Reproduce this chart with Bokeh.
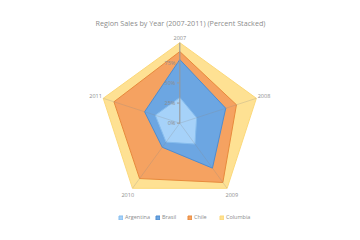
import numpy as np
from bokeh.plotting import figure
from bokeh.models import Legend, LegendItem
from bokeh.core.properties import value
from bokeh.embed import file_html
from bokeh.resources import INLINE

years = ["2007", "2008", "2009", "2010", "2011"]
series = ["Argentina", "Brasil", "Chile", "Columbia"]
argentina = [32, 22, 32, 29, 32]
brasil = [47, 38, 37, 8, 14]
chile = [10, 14, 22, 48, 40]
columbia = [11, 26, 9, 15, 14]
tick_vals = [0, 25, 50, 75]
tick_labels = ["0%", "25%", "50%", "75%"]

fills = ["#a6d2f9", "#6ca6e2", "#f5a261", "#fee193"]
lines = ["#86bdee", "#4f8ccf", "#e88a3c", "#fcd97a"]

FONT = "Open Sans"
GRAY = "#8c8c8c"

# polar geometry
n = len(years)
ang = np.pi / 2 - np.arange(n) * 2 * np.pi / n
data = np.array([argentina, brasil, chile, columbia], dtype=float)
pct = data / data.sum(axis=0) * 100.0
cum = np.cumsum(pct, axis=0) / 100.0

cx, cy, R = 179.3, 122.7, 80.5
W, H = 360, 240
p = figure(width=W, height=H, output_backend="svg", toolbar_location=None,
           x_range=(-cx / R, (W - cx) / R), y_range=(-(H - cy) / R, cy / R),
           min_border=0, outline_line_color=None)
p.axis.visible = False
p.grid.visible = False
p.background_fill_color = "white"
p.border_fill_color = "white"

renderers = []
for i in range(len(series) - 1, -1, -1):
    r = cum[i]
    xs = list(r * np.cos(ang))
    ys = list(r * np.sin(ang))
    rr = p.patch(xs, ys, fill_color=fills[i], line_color=lines[i], line_width=1)
    renderers.append((series[i], rr))

# spokes
sx = [[0, np.cos(a)] for a in ang]
sy = [[0, np.sin(a)] for a in ang]
p.multi_line(sx, sy, line_color="#888888", line_alpha=0.25, line_width=1)

# value axis on the first spoke
p.line([0, 0], [0, 1.0], line_color="#9a9a9a", line_width=1)
tv = np.array(tick_vals) / 100.0
p.segment(x0=[-0.035] * len(tv), y0=list(tv), x1=[0] * len(tv), y1=list(tv),
          line_color="#9a9a9a", line_width=1)
p.text(x=[-0.055] * len(tv), y=list(tv), text=tick_labels, text_align="right",
       text_baseline="middle", text_font=value(FONT), text_font_size="5.5px",
       text_color=GRAY)

# category labels
lab_r = np.array([1.06, 1.1, 1.1, 1.1, 1.1])
p.text(x=list(lab_r * np.cos(ang)), y=list(lab_r * np.sin(ang)), text=years,
       text_align="center", text_baseline="middle", text_font=value(FONT),
       text_font_size="5.5px", text_color=GRAY)

# title
p.text(x=[(W / 2 - cx) / R], y=[(cy - 22) / R],
       text=["Region Sales by Year (2007-2011) (Percent Stacked)"],
       text_align="center", text_baseline="middle", text_font=value(FONT),
       text_font_size="7.2px", text_color=GRAY)

items = [LegendItem(label=name, renderers=[rr]) for name, rr in reversed(renderers)]
legend = Legend(items=items, orientation="horizontal", location=(116, 17),
                border_line_alpha=0, background_fill_alpha=0,
                glyph_width=5, glyph_height=5, label_text_font=FONT,
                label_text_font_size="5.5px", label_text_color=GRAY,
                spacing=5, padding=2, margin=0, label_standoff=2,
                label_height=6)
p.add_layout(legend, "center")

open("out.html", "w").write(file_html(p, INLINE))
